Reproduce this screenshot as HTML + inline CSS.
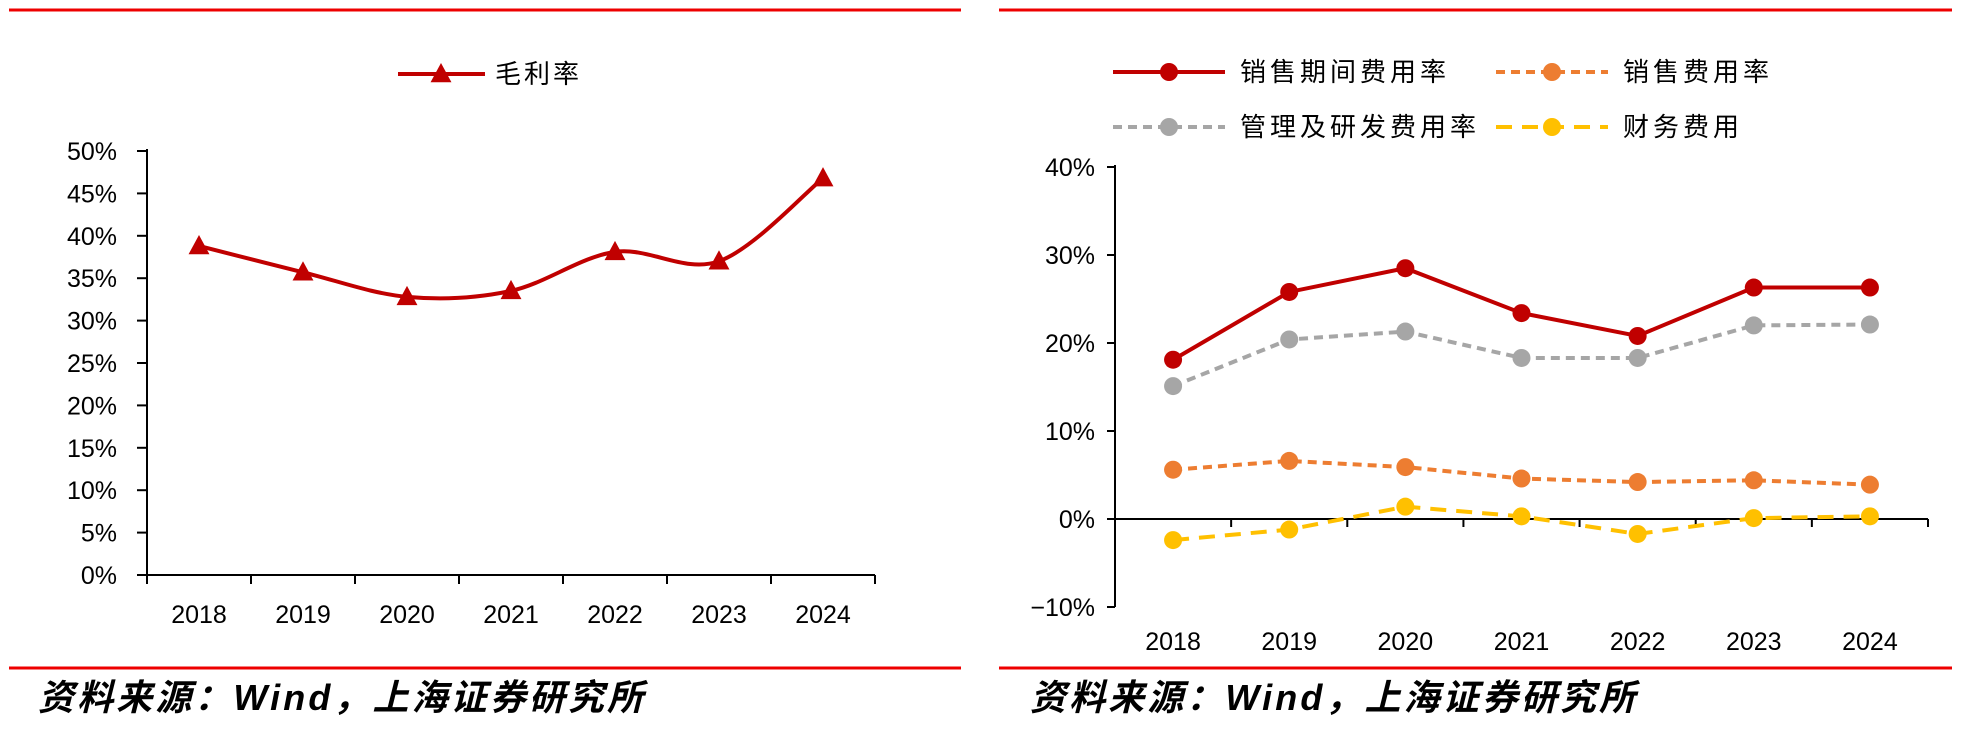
<!DOCTYPE html>
<html><head><meta charset="utf-8"><style>
html,body{margin:0;padding:0;background:#fff;}
svg{display:block;}
text{font-family:"Liberation Sans","Noto Sans CJK SC",sans-serif;}
</style></head><body>
<svg id="s" width="1986" height="734" viewBox="0 0 1986 734" xmlns="http://www.w3.org/2000/svg">
<line x1="9" y1="10" x2="961" y2="10" stroke="#e00" stroke-width="3"/>
<line x1="999" y1="10" x2="1952" y2="10" stroke="#e00" stroke-width="3"/>
<line x1="9" y1="668" x2="961" y2="668" stroke="#e00" stroke-width="3"/>
<line x1="999" y1="668" x2="1952" y2="668" stroke="#e00" stroke-width="3"/>
<text x="38" y="710" font-size="36" font-weight="bold" font-style="italic" textLength="605">资料来源：Wind，上海证券研究所</text>
<text x="1030" y="710" font-size="36" font-weight="bold" font-style="italic" textLength="605">资料来源：Wind，上海证券研究所</text>
<g id="left"></g>
<g id="right"></g>
</svg>
<script>
const years = ["2018","2019","2020","2021","2022","2023","2024"];
const grossMargin = [38.8, 35.7, 32.8, 33.5, 38.1, 37.0, 46.8];
const leftTicks = [0,5,10,15,20,25,30,35,40,45,50];
const periodExp = [18.1, 25.8, 28.5, 23.4, 20.8, 26.3, 26.3];
const salesExp = [5.6, 6.6, 5.9, 4.6, 4.2, 4.4, 3.9];
const adminRdExp = [15.1, 20.4, 21.3, 18.3, 18.3, 22.0, 22.1];
const financeExp = [-2.4, -1.2, 1.4, 0.3, -1.7, 0.1, 0.3];
const rightTicks = [-10,0,10,20,30,40];

const NS="http://www.w3.org/2000/svg";
function mk(parent,tag,attrs,txt){const e=document.createElementNS(NS,tag);for(const k in attrs)e.setAttribute(k,attrs[k]);if(txt!==undefined)e.textContent=txt;parent.appendChild(e);return e;}

const L=document.getElementById('left');
const lx0=147,lx1=875,ly0=575,ly1=151;
const lxs=i=>lx0+(lx1-lx0)/years.length*(i+0.5);
const lys=v=>ly0-(v-0)/(50-0)*(ly0-ly1);
let e;
e=mk(L,'line',{x1:lx0,y1:ly1-2,x2:lx0,y2:ly0,stroke:'#000','stroke-width':2});


e=mk(L,'line',{x1:lx0,y1:ly0,x2:lx1,y2:ly0,stroke:'#000','stroke-width':2});


leftTicks.forEach(t=>{
  mk(L,'line',{x1:137,y1:lys(t),x2:lx0,y2:lys(t),stroke:'#000','stroke-width':2});
  e=mk(L,'text',{x:117,y:lys(t)+9,'font-size':25,'text-anchor':'end'},t+'%');
  
  
});
for(let i=0;i<=years.length;i++){const x=lx0+(lx1-lx0)/years.length*i;mk(L,'line',{x1:x,y1:ly0,x2:x,y2:584,stroke:'#000','stroke-width':2});}
years.forEach((y,i)=>{e=mk(L,'text',{x:lxs(i),y:623,'font-size':25,'text-anchor':'middle'},y);
  
  });
function smooth(pts){let d='M'+pts[0][0]+','+pts[0][1];for(let i=0;i<pts.length-1;i++){const p0=pts[i-1]||pts[i],p1=pts[i],p2=pts[i+1],p3=pts[i+2]||p2;const c1=[p1[0]+(p2[0]-p0[0])/6,p1[1]+(p2[1]-p0[1])/6],c2=[p2[0]-(p3[0]-p1[0])/6,p2[1]-(p3[1]-p1[1])/6];d+=' C'+c1+' '+c2+' '+p2;}return d;}
const gp=grossMargin.map((v,i)=>[lxs(i),lys(v)]);
e=mk(L,'path',{d:smooth(gp),fill:'none',stroke:'#c00000','stroke-width':4});


function tri(p,x,y,s){return mk(p,'path',{d:`M${x},${y-s} L${x+s*0.95},${y+s*0.75} L${x-s*0.95},${y+s*0.75} Z`,fill:'#c00000'});}
gp.forEach(p=>{e=tri(L,p[0],p[1],11);
  
  });
mk(L,'line',{x1:398,y1:74,x2:485,y2:74,stroke:'#c00000','stroke-width':4});
tri(L,441,74,11);
e=mk(L,'text',{x:495,y:83,'font-size':26,'letter-spacing':3},'毛利率');



const R=document.getElementById('right');
const rx0=1115,rx1=1928,ry0=519;
const rxs=i=>rx0+(rx1-rx0)/years.length*(i+0.5);
const rys=v=>ry0-v*8.8;
e=mk(R,'line',{x1:rx0,y1:rys(40)-2,x2:rx0,y2:rys(-10),stroke:'#000','stroke-width':2});


e=mk(R,'line',{x1:rx0,y1:ry0,x2:rx1,y2:ry0,stroke:'#000','stroke-width':2});


rightTicks.forEach(t=>{
  mk(R,'line',{x1:1107,y1:rys(t),x2:rx0,y2:rys(t),stroke:'#000','stroke-width':2});
  e=mk(R,'text',{x:1095,y:rys(t)+9,'font-size':25,'text-anchor':'end'},(t<0?'−':'')+Math.abs(t)+'%');
  
  
});
for(let i=0;i<=years.length;i++){const x=rx0+(rx1-rx0)/years.length*i;mk(R,'line',{x1:x,y1:ry0,x2:x,y2:ry0+8,stroke:'#000','stroke-width':2});}
years.forEach((y,i)=>{e=mk(R,'text',{x:rxs(i),y:650,'font-size':25,'text-anchor':'middle'},y);
  
  });
const series=[
 {d:periodExp,c:'#c00000',dash:'',name:'period-expense'},
 {d:adminRdExp,c:'#a6a6a6',dash:'9,6',name:'admin-rd-expense'},
 {d:salesExp,c:'#ed7d31',dash:'9,6',name:'sales-expense'},
 {d:financeExp,c:'#ffc000',dash:'16,10',name:'finance-expense'}];
series.forEach(s=>{
  const pts=s.d.map((v,i)=>rxs(i)+','+rys(v)).join(' ');
  e=mk(R,'polyline',{points:pts,fill:'none',stroke:s.c,'stroke-width':4,'stroke-dasharray':s.dash});
  
  
  s.d.forEach((v,i)=>{e=mk(R,'circle',{cx:rxs(i),cy:rys(v),r:9,fill:s.c});
    
    });
});
const leg=[
 {x:1113,y:72,c:'#c00000',dash:'',t:'销售期间费用率'},
 {x:1496,y:72,c:'#ed7d31',dash:'9,6',t:'销售费用率'},
 {x:1113,y:127,c:'#a6a6a6',dash:'9,6',t:'管理及研发费用率'},
 {x:1496,y:127,c:'#ffc000',dash:'16,10',t:'财务费用'}];
leg.forEach(l=>{
  mk(R,'line',{x1:l.x,y1:l.y,x2:l.x+112,y2:l.y,stroke:l.c,'stroke-width':4,'stroke-dasharray':l.dash});
  mk(R,'circle',{cx:l.x+56,cy:l.y,r:9,fill:l.c});
  e=mk(R,'text',{x:l.x+127,y:l.y+9,'font-size':26,'letter-spacing':4},l.t);
  
  
});
</script>
</body></html>
